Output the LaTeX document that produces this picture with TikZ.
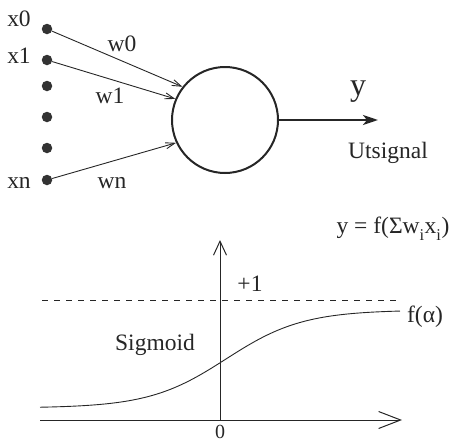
\documentclass[tikz,border=0pt]{standalone}
\usepackage{fontspec}
\setmainfont{Liberation Serif}
\usetikzlibrary{arrows.meta, positioning}

\begin{document}
\begin{tikzpicture}[
  x=1pt, y=-1pt,
  % Node styles
  dotnode/.style={
    circle, fill=black!80, inner sep=0pt, minimum size=10.5pt
  },
  neuron/.style={
    circle, draw=black!85, line width=2pt,
    minimum size=106pt, inner sep=0pt
  },
  lbl/.style={
    inner sep=1pt, font=\fontsize{23.5}{26}\selectfont, text=black!85
  },
  % Arrow styles
  inarr/.style={-{Straight Barb[length=9pt, width=6pt]}, line width=0.9pt, draw=black!85},
  outarr/.style={-{Stealth[length=15pt, width=10pt, inset=4pt]}, line width=2.4pt, draw=black!85},
  axarr/.style={line width=1pt, draw=black!85}
]
\useasboundingbox (0,0) rectangle (456,442);

%% ── Input dots ──────────────────────────────────────────────
\node[dotnode] (x0dot) at (47,29)  {};
\node[dotnode] (x1dot) at (47,60)  {};
\node[dotnode] (d1)    at (47,86)  {};
\node[dotnode] (d2)    at (47,117) {};
\node[dotnode] (d3)    at (47,148) {};
\node[dotnode] (xndot) at (47,180) {};

\node[lbl] (x0lbl) at (19,19)  {x0};
\node[lbl] (x1lbl) at (19,56)  {x1};
\node[lbl] (xnlbl) at (19,183) {xn};

%% ── Neuron ──────────────────────────────────────────────────
\node[neuron] (cell) at (225,120) {};

%% ── Weighted inputs ─────────────────────────────────────────
\draw[inarr] (x0dot) -- (cell.142);
\draw[inarr] (x1dot) -- (cell.157);
\draw[inarr] (xndot) -- (cell.205);

\node[lbl] (w0) at (122,44)  {w0};
\node[lbl] (w1) at (110,96)  {w1};
\node[lbl] (wn) at (112,183) {wn};

%% ── Output ──────────────────────────────────────────────────
\coordinate (yend) at (378,120);
\draw[outarr] (cell.east) -- (yend);
\node[lbl, font=\fontsize{32}{34}\selectfont] (ylbl) at (358,92) {y};
\node[lbl] (utsig) at (388,153) {Utsignal};

%% ── Sigmoid graph ───────────────────────────────────────────
\coordinate (orig)  at (220,420);
\coordinate (xleft) at (40,420);
\coordinate (xend)  at (402,420);
\coordinate (ytop)  at (220,240);
\draw[axarr, -{Straight Barb[length=22pt, width=17pt]}] (xleft) -- (xend);
\draw[axarr, -{Straight Barb[length=14pt, width=13pt]}] (orig) -- (ytop);

\coordinate (dashl) at (42,300);
\coordinate (dashr) at (400,300);
\draw[axarr, line width=0.8pt, dash pattern=on 6pt off 6pt] (dashl) -- (dashr);

\draw[axarr, line width=0.9pt] plot[domain=40:400, samples=90]
  (\x, {408-98/(1+exp(-0.026*(\x-226)))});

\node[lbl] (plus1) at (250,284) {+1};
\node[lbl, inner sep=0pt, font=\fontsize{20}{22}\selectfont] (zero) at (220,432) {0};
\node[lbl] (sigm)  at (155,345) {Sigmoid};
\node[lbl] (falpha) at (425,317) {f(α)};
\node[lbl] (formula) at (393,229) {y = f(Σw\raisebox{-0.3ex}{\textsubscript{i}}x\raisebox{-0.3ex}{\textsubscript{i}})};

\end{tikzpicture}
\end{document}
